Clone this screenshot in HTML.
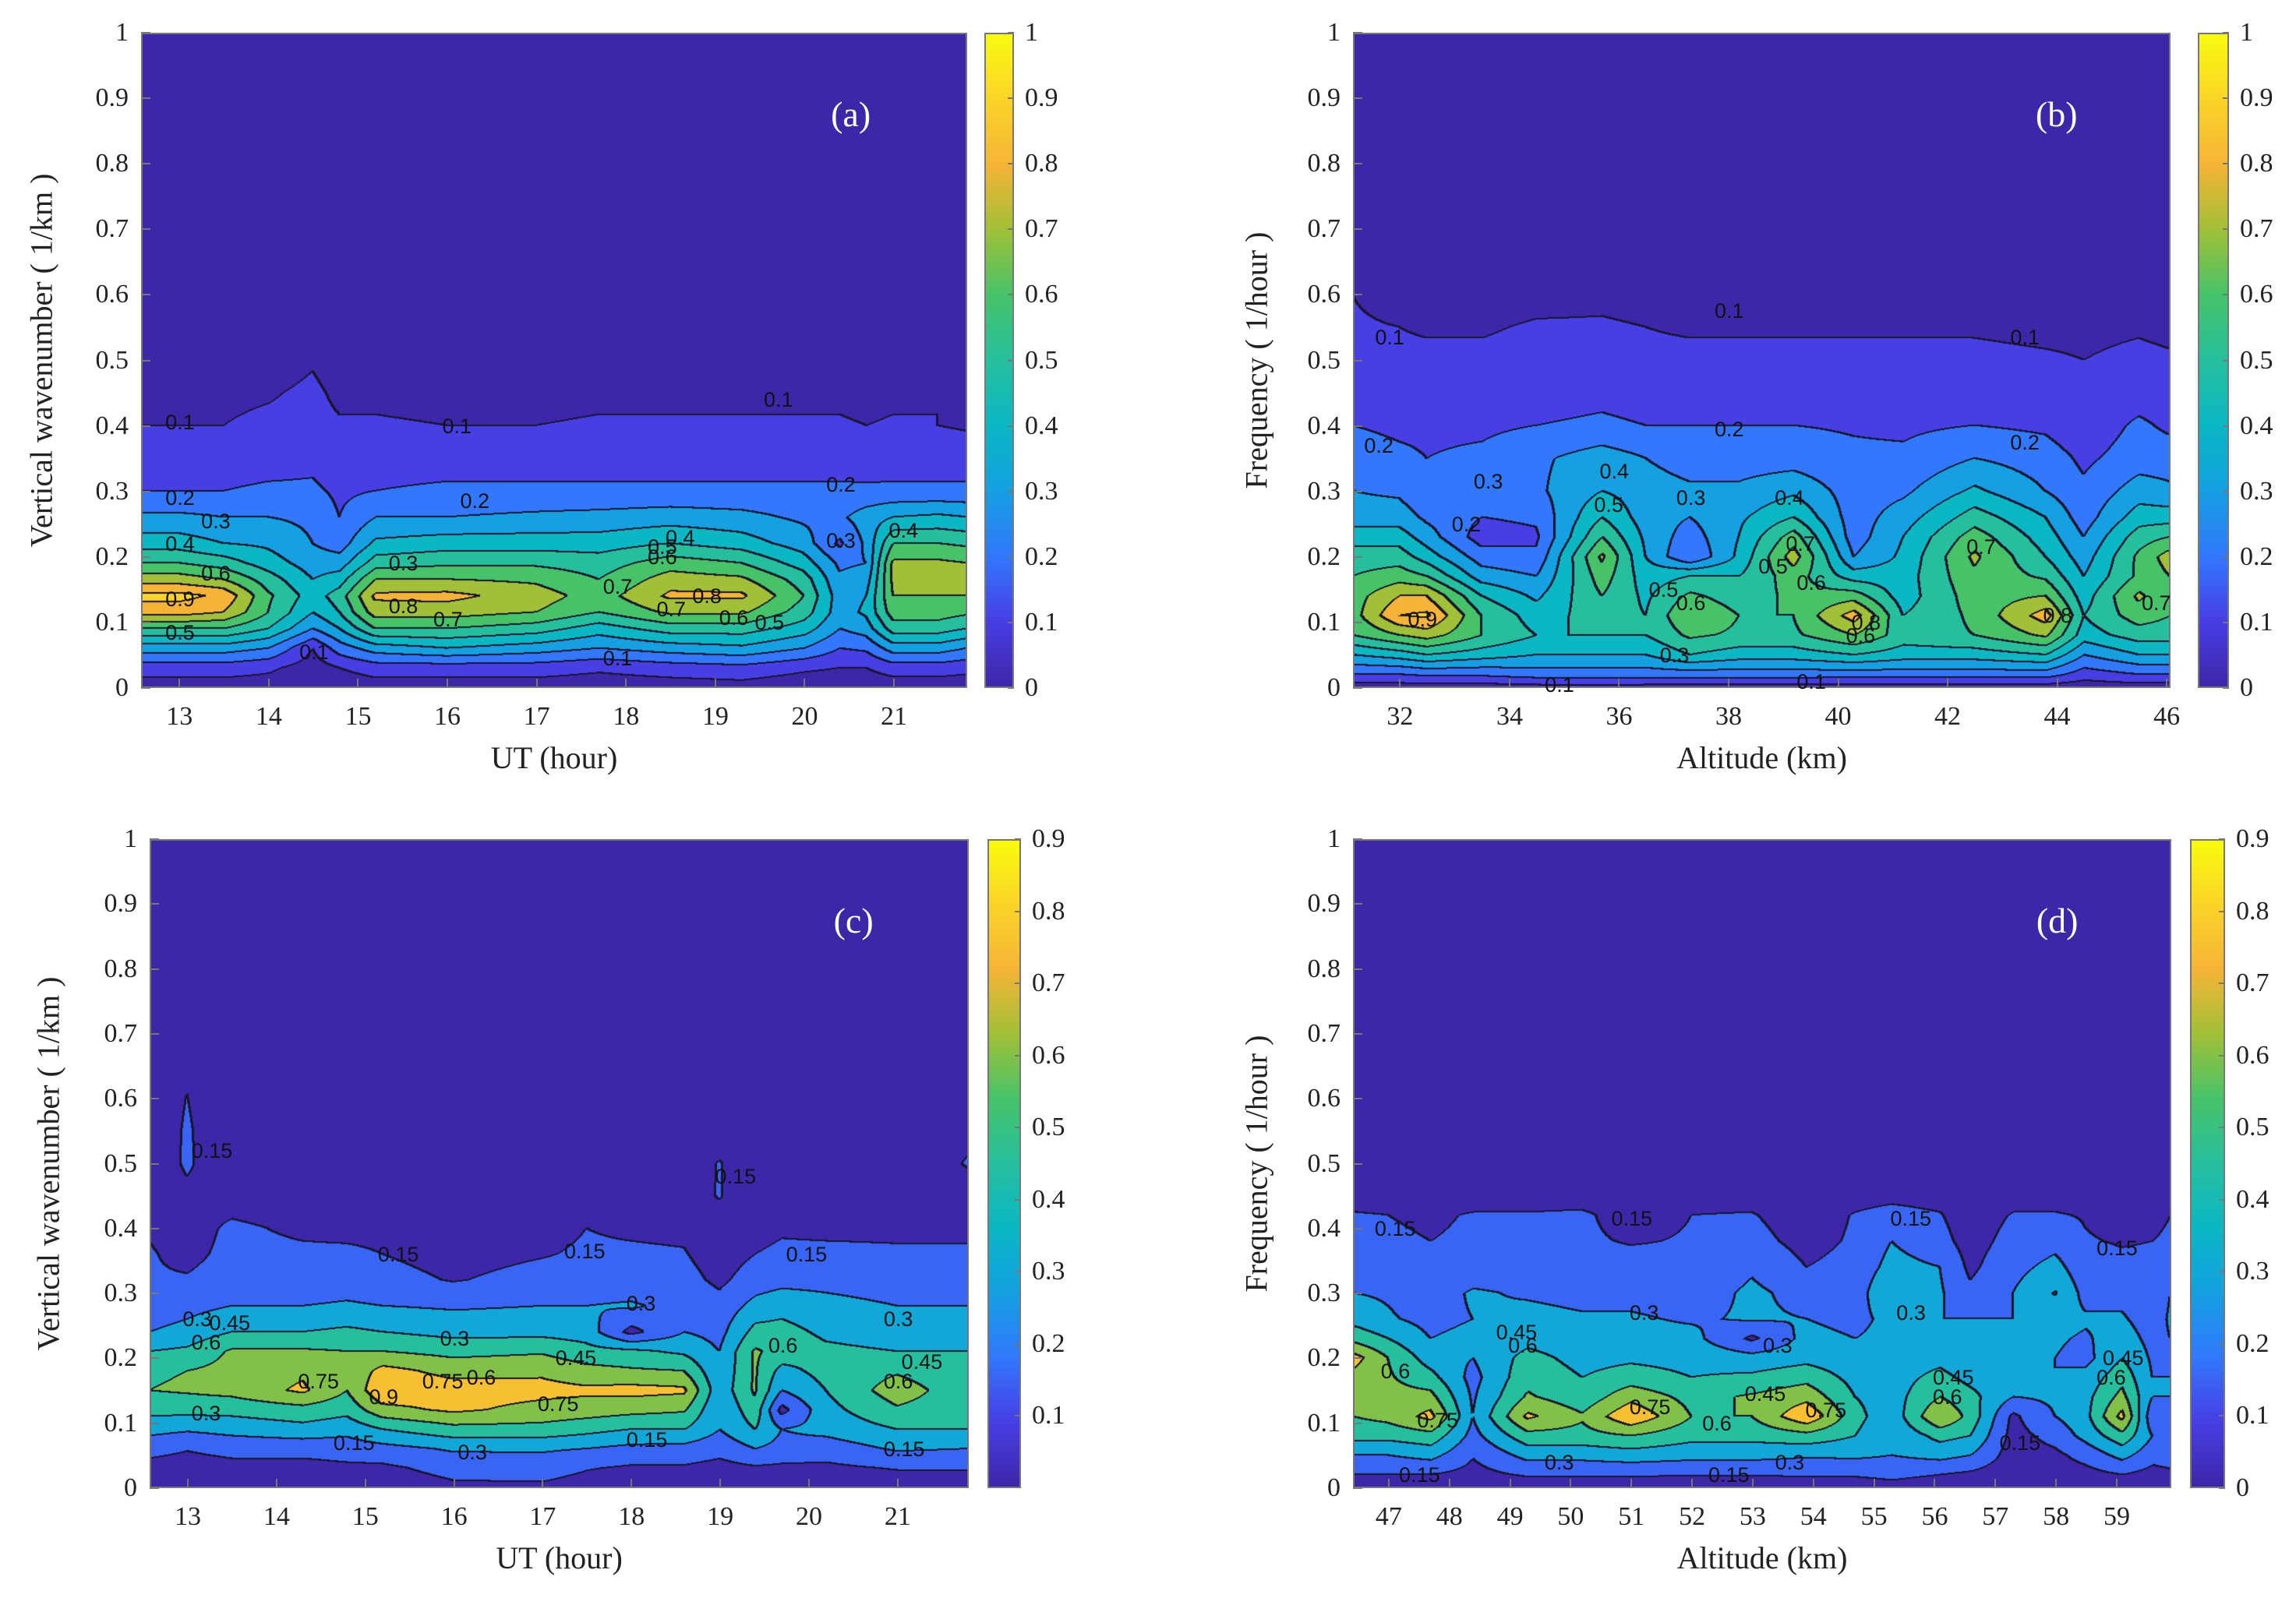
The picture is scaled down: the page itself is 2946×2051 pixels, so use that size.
<!DOCTYPE html>
<html><head><meta charset="utf-8">
<style>
body{margin:0;background:#fff;}
#root{position:relative;width:2946px;height:2051px;overflow:hidden;background:#fff;font-family:"Liberation Serif",serif;color:#222;}
.tick{position:absolute;font-size:34px;line-height:34px;white-space:nowrap;}
.axlab{position:absolute;font-size:40px;white-space:nowrap;}
.plab{position:absolute;font-size:46px;color:#fff;}
.clab{position:absolute;font-family:"Liberation Sans",sans-serif;font-size:27px;color:#111;white-space:nowrap;}
canvas{position:absolute;}
.frame{position:absolute;border:2px solid #777;box-sizing:border-box;pointer-events:none;}
.cb{position:absolute;border:2px solid #777;box-sizing:border-box;
background:linear-gradient(to top,rgb(62,38,168) 0%,rgb(71,62,228) 10%,rgb(50,120,252) 20%,rgb(20,160,225) 30%,rgb(10,183,195) 40%,rgb(38,191,158) 50%,rgb(70,195,105) 60%,rgb(160,192,55) 70%,rgb(245,180,55) 80%,rgb(250,212,40) 90%,rgb(249,251,14) 100%);}
.tm{position:absolute;background:#777;}
</style></head>
<body>
<div id="root"></div>
<script>
// ---------- Panel (a) data ----------
const aX = [12.57,13,13.5,14,14.5,14.8,15.2,16,17,17.7,18.5,19.3,20,20.4,20.7,21,21.5,21.82];
const aY = [0,0.03,0.06,0.09,0.115,0.14,0.165,0.19,0.22,0.26,0.3,0.35,0.4,0.45,0.5,1];
const aZ = [
[0.05,0.15,0.35,0.6,0.85,0.93,0.75,0.6,0.45,0.32,0.2,0.15,0.1,0.07,0.04,0.02],
[0.05,0.15,0.35,0.6,0.85,0.93,0.75,0.6,0.45,0.32,0.2,0.15,0.1,0.07,0.04,0.02],
[0.05,0.15,0.35,0.6,0.8,0.88,0.7,0.55,0.4,0.3,0.2,0.14,0.1,0.08,0.05,0.02],
[0.05,0.12,0.3,0.5,0.6,0.62,0.55,0.45,0.38,0.3,0.22,0.15,0.12,0.09,0.05,0.02],
[0.02,0.05,0.1,0.3,0.4,0.45,0.4,0.35,0.3,0.28,0.22,0.17,0.13,0.12,0.09,0.02],
[0.03,0.1,0.25,0.4,0.5,0.55,0.45,0.35,0.25,0.2,0.18,0.14,0.11,0.08,0.05,0.02],
[0.05,0.15,0.35,0.6,0.75,0.82,0.7,0.55,0.42,0.3,0.2,0.15,0.11,0.08,0.05,0.02],
[0.05,0.15,0.4,0.6,0.75,0.83,0.7,0.58,0.45,0.3,0.22,0.15,0.1,0.07,0.04,0.02],
[0.05,0.15,0.35,0.55,0.7,0.75,0.68,0.58,0.45,0.32,0.22,0.15,0.1,0.07,0.04,0.02],
[0.04,0.12,0.3,0.45,0.6,0.65,0.6,0.55,0.45,0.33,0.22,0.15,0.11,0.08,0.05,0.02],
[0.05,0.15,0.35,0.55,0.72,0.82,0.75,0.65,0.5,0.35,0.22,0.15,0.11,0.08,0.05,0.02],
[0.06,0.17,0.38,0.55,0.72,0.82,0.72,0.6,0.45,0.33,0.22,0.15,0.11,0.08,0.05,0.02],
[0.03,0.12,0.3,0.45,0.55,0.6,0.55,0.45,0.35,0.28,0.22,0.15,0.11,0.08,0.05,0.02],
[0.03,0.1,0.2,0.3,0.35,0.35,0.32,0.28,0.18,0.28,0.22,0.15,0.11,0.08,0.05,0.02],
[0.03,0.1,0.22,0.35,0.42,0.4,0.35,0.3,0.32,0.35,0.22,0.14,0.1,0.07,0.05,0.02],
[0.04,0.15,0.35,0.55,0.65,0.7,0.72,0.72,0.6,0.4,0.22,0.15,0.11,0.08,0.07,0.02],
[0.04,0.15,0.35,0.55,0.65,0.7,0.72,0.72,0.6,0.42,0.22,0.15,0.1,0.1,0.08,0.02],
[0.04,0.13,0.3,0.5,0.62,0.7,0.72,0.7,0.58,0.4,0.22,0.15,0.09,0.07,0.05,0.02]];

// ---------- Panel (b) data ----------
const bX = [31.14,32,32.5,33.5,34.5,35.7,36.5,37.3,38.2,39.2,40.3,41.2,42.5,43.8,44.5,45.5,46.07];
const bY = [0,0.02,0.05,0.08,0.11,0.14,0.17,0.2,0.23,0.26,0.3,0.35,0.4,0.45,0.5,0.55,0.6,1];
const bZ = [
[0.05,0.2,0.4,0.6,0.65,0.65,0.6,0.55,0.45,0.35,0.3,0.25,0.2,0.16,0.12,0.11,0.1,0.02],
[0.05,0.2,0.45,0.7,0.9,0.8,0.65,0.55,0.45,0.35,0.28,0.22,0.18,0.14,0.12,0.1,0.07,0.02],
[0.05,0.22,0.5,0.75,0.92,0.8,0.6,0.45,0.35,0.28,0.22,0.2,0.18,0.15,0.12,0.09,0.06,0.02],
[0.05,0.22,0.45,0.6,0.6,0.5,0.35,0.25,0.15,0.2,0.25,0.22,0.18,0.15,0.12,0.09,0.06,0.02],
[0.06,0.25,0.4,0.5,0.45,0.38,0.3,0.22,0.18,0.22,0.28,0.28,0.2,0.15,0.13,0.11,0.07,0.02],
[0.07,0.25,0.4,0.5,0.55,0.6,0.65,0.72,0.6,0.5,0.4,0.35,0.22,0.17,0.14,0.11,0.08,0.02],
[0.06,0.25,0.4,0.5,0.5,0.48,0.45,0.4,0.38,0.35,0.35,0.3,0.2,0.15,0.12,0.1,0.07,0.02],
[0.06,0.25,0.5,0.62,0.7,0.62,0.5,0.2,0.25,0.3,0.32,0.25,0.2,0.15,0.12,0.09,0.06,0.02],
[0.06,0.25,0.45,0.58,0.6,0.55,0.5,0.42,0.4,0.38,0.32,0.25,0.2,0.15,0.12,0.09,0.06,0.02],
[0.06,0.25,0.45,0.58,0.6,0.62,0.65,0.75,0.65,0.5,0.38,0.25,0.2,0.15,0.12,0.09,0.06,0.02],
[0.05,0.25,0.5,0.7,0.85,0.65,0.45,0.3,0.25,0.25,0.25,0.22,0.19,0.15,0.12,0.09,0.06,0.02],
[0.05,0.25,0.45,0.55,0.5,0.45,0.45,0.42,0.4,0.35,0.28,0.22,0.18,0.15,0.12,0.09,0.06,0.02],
[0.05,0.25,0.45,0.6,0.62,0.65,0.68,0.72,0.65,0.55,0.42,0.3,0.2,0.15,0.12,0.09,0.06,0.02],
[0.05,0.25,0.5,0.72,0.85,0.7,0.58,0.5,0.45,0.4,0.3,0.25,0.18,0.14,0.11,0.08,0.05,0.02],
[0.04,0.15,0.3,0.45,0.5,0.45,0.4,0.35,0.3,0.25,0.22,0.18,0.13,0.12,0.1,0.08,0.05,0.02],
[0.05,0.2,0.4,0.55,0.65,0.72,0.62,0.62,0.55,0.45,0.35,0.25,0.22,0.15,0.12,0.09,0.06,0.02],
[0.05,0.2,0.4,0.55,0.6,0.62,0.7,0.75,0.6,0.45,0.32,0.25,0.18,0.14,0.11,0.08,0.05,0.02]];

// ---------- Panel (c) data ----------
const cX = [12.57,13,13.5,14.3,14.8,15.2,16,17,17.5,18,18.6,19,19.4,19.7,20.2,21,21.8];
const cY = [0,0.03,0.06,0.09,0.12,0.15,0.18,0.21,0.24,0.28,0.32,0.36,0.4,0.45,0.5,0.55,1];
const cZ = [
[0.05,0.1,0.2,0.35,0.5,0.6,0.58,0.45,0.3,0.2,0.16,0.16,0.14,0.08,0.05,0.03,0.02],
[0.03,0.08,0.16,0.32,0.5,0.62,0.6,0.48,0.35,0.25,0.16,0.12,0.1,0.12,0.17,0.17,0.02],
[0.04,0.1,0.2,0.35,0.5,0.65,0.65,0.62,0.45,0.3,0.2,0.18,0.17,0.1,0.05,0.03,0.02],
[0.04,0.1,0.2,0.4,0.55,0.78,0.72,0.62,0.45,0.3,0.2,0.17,0.13,0.08,0.04,0.03,0.02],
[0.05,0.12,0.22,0.35,0.5,0.6,0.62,0.6,0.48,0.32,0.22,0.17,0.12,0.08,0.04,0.03,0.02],
[0.06,0.12,0.25,0.45,0.7,0.88,0.8,0.6,0.45,0.3,0.2,0.15,0.12,0.08,0.04,0.03,0.02],
[0.12,0.2,0.32,0.55,0.78,0.82,0.7,0.55,0.4,0.28,0.14,0.1,0.07,0.05,0.03,0.02,0.02],
[0.12,0.22,0.32,0.55,0.7,0.8,0.72,0.58,0.4,0.3,0.2,0.14,0.1,0.06,0.04,0.03,0.02],
[0.08,0.16,0.3,0.5,0.68,0.78,0.65,0.5,0.38,0.3,0.2,0.17,0.15,0.05,0.06,0.03,0.02],
[0.06,0.13,0.26,0.45,0.65,0.8,0.62,0.48,0.1,0.32,0.2,0.17,0.13,0.06,0.04,0.03,0.02],
[0.06,0.13,0.25,0.45,0.62,0.78,0.6,0.42,0.3,0.25,0.2,0.16,0.12,0.08,0.04,0.03,0.02],
[0.04,0.1,0.2,0.3,0.3,0.35,0.32,0.3,0.25,0.2,0.12,0.08,0.08,0.16,0.16,0.05,0.02],
[0.06,0.13,0.3,0.45,0.55,0.62,0.62,0.62,0.5,0.35,0.22,0.15,0.1,0.05,0.04,0.03,0.02],
[0.05,0.12,0.25,0.3,0.1,0.3,0.4,0.55,0.5,0.4,0.25,0.18,0.13,0.06,0.04,0.03,0.02],
[0.05,0.12,0.22,0.35,0.4,0.45,0.5,0.48,0.42,0.35,0.25,0.18,0.12,0.06,0.04,0.03,0.02],
[0.06,0.16,0.32,0.45,0.58,0.68,0.58,0.45,0.38,0.3,0.22,0.17,0.12,0.06,0.04,0.03,0.02],
[0.06,0.16,0.3,0.45,0.5,0.5,0.48,0.45,0.38,0.3,0.22,0.17,0.12,0.1,0.16,0.12,0.02]];

// ---------- Panel (d) data ----------
const dX = [46.41,47,47.7,48.4,49.3,50.2,51,52,53,53.9,54.7,55.3,56.1,56.6,57.3,58,58.5,59.1,59.6,59.9];
const dY = [0,0.02,0.05,0.08,0.11,0.14,0.17,0.2,0.23,0.26,0.3,0.34,0.38,0.42,0.46,0.5,1];
const dZ = [
[0.05,0.15,0.3,0.5,0.6,0.62,0.7,0.82,0.55,0.4,0.3,0.2,0.17,0.16,0.08,0.04,0.02],
[0.05,0.15,0.3,0.5,0.65,0.65,0.62,0.6,0.45,0.32,0.28,0.2,0.17,0.15,0.07,0.04,0.02],
[0.04,0.15,0.35,0.55,0.8,0.65,0.5,0.38,0.3,0.25,0.22,0.18,0.15,0.13,0.07,0.04,0.02],
[0.02,0.1,0.16,0.25,0.3,0.28,0.25,0.3,0.35,0.3,0.32,0.2,0.17,0.16,0.07,0.04,0.02],
[0.05,0.17,0.35,0.55,0.78,0.62,0.55,0.5,0.4,0.35,0.28,0.2,0.17,0.16,0.07,0.04,0.02],
[0.05,0.17,0.35,0.55,0.62,0.5,0.45,0.4,0.35,0.32,0.25,0.2,0.17,0.17,0.07,0.04,0.02],
[0.05,0.17,0.38,0.6,0.88,0.7,0.52,0.42,0.35,0.32,0.25,0.2,0.14,0.1,0.06,0.04,0.02],
[0.04,0.16,0.35,0.5,0.6,0.55,0.45,0.4,0.35,0.28,0.22,0.18,0.16,0.15,0.07,0.04,0.02],
[0.04,0.16,0.35,0.5,0.6,0.62,0.48,0.35,0.12,0.32,0.33,0.28,0.2,0.16,0.07,0.04,0.02],
[0.05,0.17,0.32,0.55,0.88,0.7,0.55,0.4,0.35,0.3,0.25,0.15,0.1,0.07,0.05,0.04,0.02],
[0.05,0.17,0.33,0.45,0.5,0.45,0.4,0.35,0.3,0.25,0.22,0.2,0.17,0.16,0.07,0.04,0.02],
[0.08,0.2,0.3,0.32,0.35,0.38,0.38,0.36,0.35,0.35,0.45,0.35,0.3,0.2,0.08,0.04,0.02],
[0.04,0.15,0.35,0.5,0.75,0.6,0.5,0.4,0.3,0.3,0.32,0.3,0.2,0.16,0.07,0.04,0.02],
[0.04,0.12,0.3,0.45,0.55,0.5,0.4,0.3,0.32,0.3,0.18,0.12,0.09,0.07,0.05,0.04,0.02],
[0.03,0.05,0.08,0.1,0.12,0.3,0.35,0.32,0.32,0.3,0.3,0.25,0.2,0.16,0.07,0.04,0.02],
[0.03,0.08,0.12,0.2,0.3,0.33,0.3,0.3,0.32,0.35,0.46,0.35,0.25,0.16,0.08,0.04,0.02],
[0.04,0.1,0.2,0.35,0.4,0.4,0.35,0.25,0.28,0.32,0.25,0.2,0.16,0.14,0.06,0.04,0.02],
[0.05,0.15,0.35,0.55,0.8,0.65,0.55,0.45,0.38,0.32,0.25,0.18,0.14,0.1,0.05,0.04,0.02],
[0.04,0.1,0.2,0.3,0.2,0.3,0.3,0.28,0.25,0.22,0.2,0.18,0.15,0.1,0.06,0.04,0.02],
[0.04,0.12,0.22,0.3,0.3,0.3,0.3,0.3,0.3,0.32,0.3,0.25,0.18,0.15,0.08,0.04,0.02]];

// tick labels
const aXTicks = [13,14,15,16,17,18,19,20,21];
const bXTicks = [32,34,36,38,40,42,44,46];
const dXTicks = [47,48,49,50,51,52,53,54,55,56,57,58,59];
const yTicks = [0,0.1,0.2,0.3,0.4,0.5,0.6,0.7,0.8,0.9,1];
const cb1Ticks = [0,0.1,0.2,0.3,0.4,0.5,0.6,0.7,0.8,0.9,1];
const cbcTicks = [0.1,0.2,0.3,0.4,0.5,0.6,0.7,0.8,0.9];
const cbdTicks = [0,0.1,0.2,0.3,0.4,0.5,0.6,0.7,0.8,0.9];

// contour label text & positions (data coords)
const aLabText = ["0.1","0.1","0.1","0.2","0.2","0.2","0.3","0.4","0.5","0.6","0.9","0.8","0.7","0.7","0.8","0.7","0.6","0.5","0.3","0.4","0.5","0.6","0.3","0.4","0.1","0.1"];
const aLabX = [13.0,16.1,19.7,13.0,16.3,20.4,13.4,13.0,13.0,13.4,13.0,15.5,16.0,17.9,18.9,18.5,19.2,19.6,15.5,18.6,18.4,18.4,20.4,21.1,14.5,17.9];
const aLabY = [0.405,0.40,0.44,0.29,0.285,0.31,0.255,0.22,0.085,0.175,0.135,0.125,0.105,0.155,0.14,0.12,0.107,0.1,0.19,0.23,0.215,0.2,0.225,0.24,0.055,0.045];
const bLabText = ["0.1","0.1","0.1","0.2","0.2","0.2","0.3","0.2","0.4","0.5","0.3","0.4","0.7","0.7","0.9","0.6","0.5","0.5","0.6","0.6","0.8","0.8","0.7","0.3","0.1","0.1"];
const bLabX = [31.8,38.0,43.4,31.6,38.0,43.4,33.6,33.2,35.9,35.8,37.3,39.1,39.3,42.6,32.4,37.3,36.8,38.8,39.5,40.4,40.5,44.0,45.8,37.0,34.9,39.5];
const bLabY = [0.535,0.575,0.535,0.37,0.395,0.375,0.315,0.25,0.33,0.28,0.29,0.29,0.22,0.215,0.105,0.13,0.15,0.185,0.16,0.08,0.1,0.11,0.13,0.05,0.005,0.01];
const cLabText = ["0.15","0.15","0.15","0.15","0.3","0.3","0.3","0.3","0.45","0.45","0.6","0.75","0.9","0.75","0.75","0.6","0.6","0.3","0.15","0.15","0.15","0.3","0.45","0.6","0.15"];
const cLabX = [13.2,15.3,17.4,19.9,13.1,16.0,18.1,21.0,13.4,17.3,13.2,14.4,15.2,15.8,17.1,21.0,19.7,13.2,14.8,18.1,21.0,16.2,21.2,16.3,19.1];
const cLabY = [0.52,0.36,0.365,0.36,0.26,0.23,0.285,0.26,0.255,0.2,0.225,0.165,0.14,0.165,0.13,0.165,0.22,0.115,0.07,0.075,0.06,0.055,0.195,0.17,0.48];
const dLabText = ["0.15","0.15","0.15","0.15","0.3","0.3","0.3","0.45","0.6","0.75","0.75","0.75","0.6","0.45","0.6","0.45","0.6","0.3","0.15","0.15","0.3","0.45","0.6","0.15"];
const dLabX = [47.0,50.9,55.5,58.9,51.2,53.4,49.8,49.0,47.1,47.7,51.2,54.1,52.4,53.1,56.2,56.2,58.9,55.6,47.4,52.5,53.6,59.0,49.2,57.3];
const dLabY = [0.4,0.415,0.415,0.37,0.27,0.22,0.04,0.24,0.18,0.105,0.125,0.12,0.1,0.145,0.14,0.17,0.17,0.27,0.02,0.02,0.04,0.2,0.22,0.07];

const root = document.getElementById('root');
const stops = [[0,62,38,168],[0.1,71,62,228],[0.2,50,120,252],[0.3,20,160,225],[0.4,10,183,195],[0.5,38,191,158],[0.6,70,195,105],[0.7,160,192,55],[0.8,245,180,55],[0.9,250,212,40],[1,249,251,14]];
function parula(f){
  f=Math.max(0,Math.min(1,f));
  for(let i=0;i<stops.length-1;i++){
    const a=stops[i],b=stops[i+1];
    if(f<=b[0]){const t=(f-a[0])/(b[0]-a[0]);return [a[1]+t*(b[1]-a[1]),a[2]+t*(b[2]-a[2]),a[3]+t*(b[3]-a[3])];}
  }
  return stops[stops.length-1].slice(1);
}
function seg(arr,v){
  if(v<=arr[0])return [0,0];
  const n=arr.length;
  if(v>=arr[n-1])return [n-2,1];
  let i=0;while(arr[i+1]<v)i++;
  return [i,(v-arr[i])/(arr[i+1]-arr[i])];
}
function fmt(v){return (Math.round(v*100)/100).toString();}

function panel(cfg){
  const {key,L,T,W,H,xmin,xmax,xs,ys,Z,step,cmax,xTicks,xTitle,yTitle,yTitleX,cbL,cbW,cbTicks,cbMin,letter,labT,labX,labY}=cfg;
  const sx=x=>L+(x-xmin)/(xmax-xmin)*W;
  const sy=y=>T+(1-y)*H;
  const cv=document.createElement('canvas');
  cv.width=W;cv.height=H;cv.style.left=L+'px';cv.style.top=T+'px';
  
  
  root.appendChild(cv);
  const ctx=cv.getContext('2d');
  const img=ctx.createImageData(W,H);
  const colI=[],colT=[];
  for(let px=0;px<W;px++){const s=seg(xs,xmin+(px+0.5)/W*(xmax-xmin));colI.push(s[0]);colT.push(s[1]);}
  const rowI=[],rowT=[];
  for(let py=0;py<H;py++){const s=seg(ys,1-(py+0.5)/H);rowI.push(s[0]);rowT.push(s[1]);}
  const nb=Math.round(cmax/step);
  const band=new Int8Array(W*H);
  for(let py=0;py<H;py++){
    const j=rowI[py],u=rowT[py];
    for(let px=0;px<W;px++){
      const i=colI[px],t=colT[px];
      const v=(1-t)*((1-u)*Z[i][j]+u*Z[i][j+1])+t*((1-u)*Z[i+1][j]+u*Z[i+1][j+1]);
      let b=Math.floor(v/step+1e-9);if(b<0)b=0;if(b>nb)b=nb;
      band[py*W+px]=b;
    }
  }
  const cols=[];for(let b=0;b<=nb;b++)cols.push(parula(b*step/cmax));
  for(let py=0;py<H;py++)for(let px=0;px<W;px++){
    const k=py*W+px,b=band[k];
    let edge=false;
    if(px<W-1&&band[k+1]!==b)edge=true;
    if(px<W-2&&band[k+2]!==b)edge=true;
    if(py<H-1&&band[k+W]!==b)edge=true;
    if(py<H-2&&band[k+2*W]!==b)edge=true;
    if(px<W-3&&band[k+3]!==b)edge=true;
    const c=edge?[25,22,45]:cols[b];
    img.data[k*4]=c[0];img.data[k*4+1]=c[1];img.data[k*4+2]=c[2];img.data[k*4+3]=255;
  }
  ctx.putImageData(img,0,0);
  const fr=document.createElement('div');fr.className='frame';
  fr.style.cssText=`left:${L}px;top:${T}px;width:${W}px;height:${H}px;`;
  
  
  root.appendChild(fr);
  xTicks.forEach(v=>{
    const m=document.createElement('div');m.className='tm';
    m.style.cssText=`left:${sx(v)-1}px;top:${T+H-12}px;width:2px;height:12px;`;
    
    
    root.appendChild(m);
    const d=document.createElement('div');d.className='tick';d.textContent=v;
    d.style.left=(sx(v)-40)+'px';d.style.width='80px';d.style.textAlign='center';d.style.top=(T+H+20)+'px';
    
    
    root.appendChild(d);
  });
  yTicks.forEach(v=>{
    const m=document.createElement('div');m.className='tm';
    m.style.cssText=`left:${L}px;top:${sy(v)-1}px;width:12px;height:2px;`;
    
    
    root.appendChild(m);
    const d=document.createElement('div');d.className='tick';d.textContent=fmt(v);
    d.style.left=(L-112)+'px';d.style.width='96px';d.style.textAlign='right';d.style.top=(sy(v)-17)+'px';
    
    
    root.appendChild(d);
  });
  const xt=document.createElement('div');xt.className='axlab';xt.textContent=xTitle;
  xt.style.left=(L+W/2-300)+'px';xt.style.width='600px';xt.style.textAlign='center';xt.style.top=(T+H+66)+'px';
  
  
  root.appendChild(xt);
  const yt=document.createElement('div');yt.className='axlab';yt.textContent=yTitle;
  yt.style.left=(yTitleX-400)+'px';yt.style.width='800px';yt.style.textAlign='center';yt.style.top=(T+H/2-24)+'px';
  yt.style.transform='rotate(-90deg)';
  
  
  root.appendChild(yt);
  const pl=document.createElement('div');pl.className='plab';pl.textContent=letter;
  pl.style.left=(L+W*0.835)+'px';pl.style.top=(T+78)+'px';
  
  
  root.appendChild(pl);
  const cb=document.createElement('div');cb.className='cb';
  cb.style.cssText=`left:${cbL}px;top:${T}px;width:${cbW}px;height:${H}px;`;
  
  
  root.appendChild(cb);
  const cy=v=>T+H-(v-cbMin)/(cmax-cbMin)*H;
  cbTicks.forEach(v=>{
    const m=document.createElement('div');m.className='tm';
    m.style.cssText=`left:${cbL+cbW-8}px;top:${cy(v)-1}px;width:8px;height:2px;`;
    
    
    root.appendChild(m);
    const d=document.createElement('div');d.className='tick';d.textContent=fmt(v);
    d.style.left=(cbL+cbW+14)+'px';d.style.top=(cy(v)-17)+'px';
    
    
    root.appendChild(d);
  });
  labT.forEach((t,i)=>{
    const d=document.createElement('div');d.className='clab';d.textContent=t;
    d.style.left=(sx(labX[i])-18)+'px';d.style.top=(sy(labY[i])-15)+'px';
    
    
    root.appendChild(d);
  });
}

panel({key:'panel-a',L:181,T:42,W:1060,H:841,xmin:12.57,xmax:21.82,xs:aX,ys:aY,Z:aZ,step:0.1,cmax:1,cbMin:0,
  xTicks:aXTicks,xTitle:'UT (hour)',yTitle:'Vertical wavenumber ( 1/km )',yTitleX:53,
  cbL:1263,cbW:38,cbTicks:cb1Ticks,letter:'(a)',labT:aLabText,labX:aLabX,labY:aLabY});
panel({key:'panel-b',L:1736,T:42,W:1049,H:841,xmin:31.14,xmax:46.07,xs:bX,ys:bY,Z:bZ,step:0.1,cmax:1,cbMin:0,
  xTicks:bXTicks,xTitle:'Altitude (km)',yTitle:'Frequency ( 1/hour )',yTitleX:1612,
  cbL:2820,cbW:40,cbTicks:cb1Ticks,letter:'(b)',labT:bLabText,labX:bLabX,labY:bLabY});
panel({key:'panel-c',L:192,T:1077,W:1051,H:833,xmin:12.57,xmax:21.8,xs:cX,ys:cY,Z:cZ,step:0.15,cmax:0.9,cbMin:0,
  xTicks:aXTicks,xTitle:'UT (hour)',yTitle:'Vertical wavenumber ( 1/km )',yTitleX:62,
  cbL:1267,cbW:43,cbTicks:cbcTicks,letter:'(c)',labT:cLabText,labX:cLabX,labY:cLabY});
panel({key:'panel-d',L:1736,T:1077,W:1050,H:833,xmin:46.41,xmax:59.9,xs:dX,ys:dY,Z:dZ,step:0.15,cmax:0.9,cbMin:0,
  xTicks:dXTicks,xTitle:'Altitude (km)',yTitle:'Frequency ( 1/hour )',yTitleX:1612,
  cbL:2810,cbW:45,cbTicks:cbdTicks,letter:'(d)',labT:dLabText,labX:dLabX,labY:dLabY});
</script>
</body></html>
